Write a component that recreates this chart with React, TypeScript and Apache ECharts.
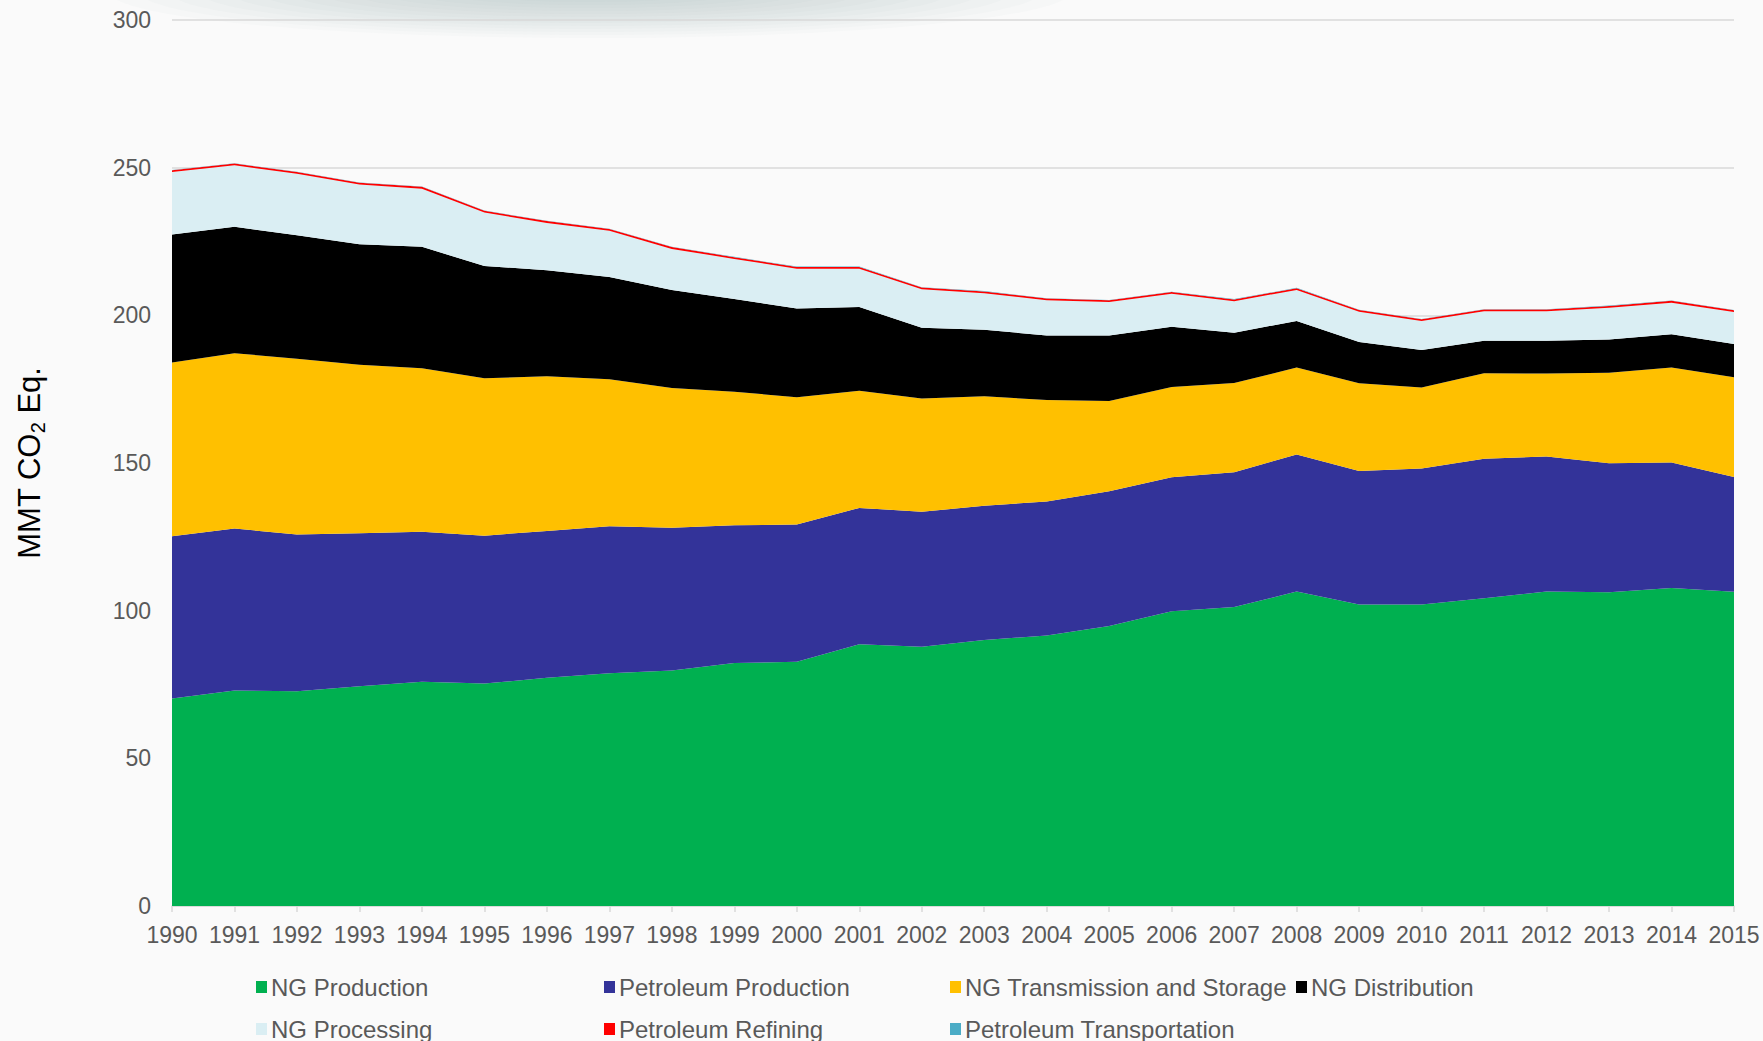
import React, { useEffect, useRef } from "react";
import * as echarts from "echarts";

const years = ["1990","1991","1992","1993","1994","1995","1996","1997","1998","1999","2000","2001","2002","2003","2004","2005","2006","2007","2008","2009","2010","2011","2012","2013","2014","2015"];

const ngProduction = [70.3,73.0,72.7,74.4,75.9,75.3,77.3,78.8,79.7,82.3,82.7,88.6,87.8,90.1,91.6,94.8,99.8,101.2,106.5,102.1,102.1,104.2,106.5,106.2,107.7,106.4];
const petroleumProduction = [54.9,54.8,53.1,51.8,50.8,50.1,49.7,49.8,48.4,46.6,46.5,46.2,45.7,45.4,45.4,45.6,45.4,45.7,46.4,45.2,46.0,47.2,45.7,43.7,42.5,38.9];
const ngTransmission = [58.8,59.4,59.5,57.1,55.4,53.3,52.4,49.8,47.3,45.2,43.1,39.7,38.3,37.1,34.3,30.6,30.5,30.2,29.4,29.7,27.5,29.0,28.1,30.7,32.1,33.7];
const ngDistribution = [43.4,42.8,41.8,40.8,41.1,38.0,35.9,34.6,33.2,31.4,30.0,28.3,24.0,22.5,21.9,22.2,20.4,17.0,15.8,14.0,12.7,11.0,11.1,11.2,11.3,11.3];
const ngProcessing = [21.1,20.8,20.8,20.2,19.7,18.1,16.0,15.6,13.9,13.6,13.5,13.0,13.0,12.4,11.9,11.3,11.2,10.7,10.5,10.2,9.8,10.0,10.0,10.8,10.7,10.8];
const petroleumRefining = [0.6,0.6,0.6,0.6,0.6,0.6,0.6,0.6,0.6,0.6,0.6,0.6,0.6,0.6,0.6,0.6,0.6,0.6,0.6,0.6,0.6,0.6,0.6,0.6,0.6,0.6];
const petroleumTransportation = [0.1,0.1,0.1,0.1,0.1,0.1,0.1,0.1,0.1,0.1,0.1,0.1,0.1,0.1,0.1,0.1,0.1,0.1,0.1,0.1,0.1,0.1,0.1,0.1,0.1,0.1];

const seriesNames = [
  "NG Production",
  "Petroleum Production",
  "NG Transmission and Storage",
  "NG Distribution",
  "NG Processing",
  "Petroleum Refining",
  "Petroleum Transportation",
];
const seriesData = [
  ngProduction,
  petroleumProduction,
  ngTransmission,
  ngDistribution,
  ngProcessing,
  petroleumRefining,
  petroleumTransportation,
];
const seriesColors = ["#00B050", "#333399", "#FFC000", "#000000", "#DAEEF3", "#FF0000", "#4BACC6"];

const yTicks = { min: 0, max: 300, interval: 50 };

const FONT = "'Liberation Sans', Arial, sans-serif";
const TEXT = "#595959";

// decorative faint haze at the top edge (layered ellipses: rx, ry)
const hazeLayers = [
  [480, 46], [450, 43], [420, 40], [390, 37], [360, 34], [330, 31], [300, 28], [270, 25],
  [240, 22], [210, 19], [180, 16], [150, 13], [120, 10], [90, 8],
];

export default function App() {
  const ref = useRef<HTMLDivElement>(null);

  useEffect(() => {
    if (!ref.current) return;
    const chart = echarts.init(ref.current, undefined, { renderer: "svg" });

    const legendPos = [
      { left: 256, top: 975 },
      { left: 604, top: 975 },
      { left: 950, top: 975 },
      { left: 1296, top: 975 },
      { left: 256, top: 1017 },
      { left: 604, top: 1017 },
      { left: 950, top: 1017 },
    ];

    const option: any = {
      animation: false,
      backgroundColor: "#FAFAFA",
      textStyle: { fontFamily: FONT },
      graphic: hazeLayers.map(([rx, ry]) => ({
        type: "ellipse",
        shape: { cx: 590, cy: -8, rx, ry },
        style: { fill: "rgba(135,160,182,0.036)" },
        silent: true,
        z: -1,
      })),
      grid: { left: 172, right: 29, top: 20, bottom: 135, containLabel: false },
      legend: legendPos.map((p, i) => ({
        data: [seriesNames[i]],
        left: p.left,
        top: p.top,
        padding: 0,
        itemWidth: 11,
        itemHeight: 12,
        icon: "rect",
        selectedMode: false,
        textStyle: { fontSize: 24, color: TEXT, fontFamily: FONT, padding: [0, 0, 0, -1] },
      })),
      xAxis: {
        type: "category",
        data: years,
        boundaryGap: false,
        axisLine: { lineStyle: { color: "#D9D9D9", width: 1.5 } },
        axisTick: { show: true, length: 6, alignWithLabel: true, lineStyle: { color: "#D9D9D9", width: 1.5 } },
        axisLabel: { interval: 0, fontSize: 23, color: TEXT, margin: 17, fontFamily: FONT },
        splitLine: { show: false },
      },
      yAxis: {
        type: "value",
        min: yTicks.min,
        max: yTicks.max,
        interval: yTicks.interval,
        axisLine: { show: false },
        axisTick: { show: false },
        axisLabel: { fontSize: 23, color: TEXT, margin: 21, fontFamily: FONT },
        splitLine: { lineStyle: { color: "#D9D9D9", width: 1.5 } },
        name: "{a|MMT CO}{s|2}{a| Eq.}",
        nameLocation: "middle",
        nameRotate: 90,
        nameGap: 124,
        nameTextStyle: {
          rich: {
            a: { fontSize: 31, color: "#000000", fontFamily: FONT, lineHeight: 38, verticalAlign: "middle" },
            s: { fontSize: 20, color: "#000000", fontFamily: FONT, lineHeight: 16, verticalAlign: "bottom" },
          },
        },
      },
      series: seriesNames.map((name, i) => ({
        name,
        type: "line",
        stack: "total",
        data: seriesData[i],
        symbol: "none",
        showSymbol: false,
        lineStyle: { width: 0, opacity: 0 },
        itemStyle: { color: seriesColors[i] },
        areaStyle: { color: seriesColors[i], opacity: 1 },
        z: 2 + i,
      })),
    };

    chart.setOption(option);
    return () => chart.dispose();
  }, []);

  return (
    <div
      ref={ref}
      style={{ position: "fixed", left: 0, top: 0, width: 1763, height: 1041 }}
    />
  );
}
